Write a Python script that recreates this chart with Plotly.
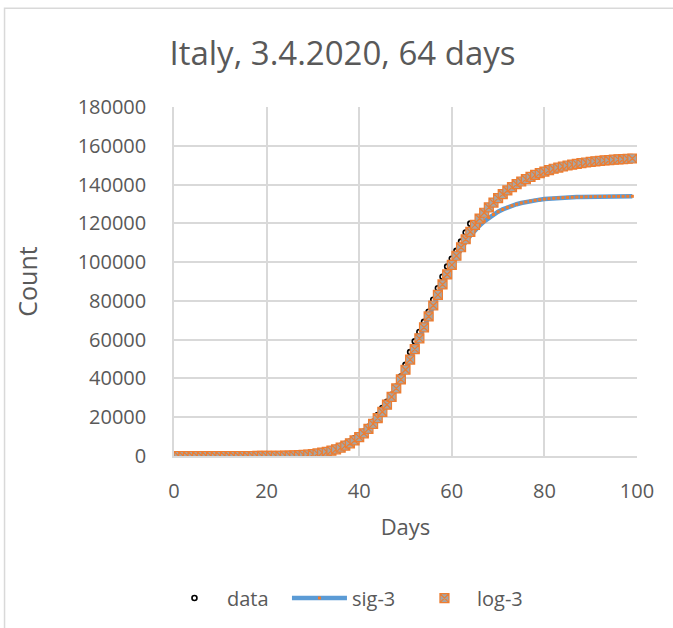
import plotly.graph_objects as go

# Italy cumulative cases, day 1 = 31 Jan 2020 ... day 64 = 3 Apr 2020
data_days = list(range(1, 65))
data_count = [
    2, 2, 2, 2, 2, 2, 2, 3, 3, 3,
    3, 3, 3, 3, 3, 3, 3, 3, 3, 3,
    3, 20, 79, 150, 229, 322, 400, 650, 888, 1128,
    1694, 2036, 2502, 3089, 3858, 4636, 5883, 7375, 9172, 10149,
    12462, 15113, 17660, 21157, 24747, 27980, 31506, 35713, 41035, 47021,
    53578, 59138, 63927, 69176, 74386, 80589, 86498, 92472, 97689, 101739,
    105792, 110574, 115242, 119827,
]

# fitted curves, days 1..99
fit_days = list(range(1, 100))
sig3 = [
    14, 17, 20, 24, 28, 34, 40, 47, 56, 67,
    79, 94, 112, 133, 158, 188, 224, 266, 315, 375,
    445, 529, 628, 745, 885, 1050, 1246, 1478, 1753, 2078,
    2462, 2916, 3451, 4081, 4823, 5692, 6711, 7901, 9286, 10893,
    12750, 14885, 17326, 20101, 23231, 26734, 30620, 34886, 39520, 44493,
    49762, 55269, 60946, 66711, 72481, 78169, 83697, 88993, 93997, 98666,
    102970, 106895, 110436, 113602, 116410, 118884, 121049, 122933, 124563, 125970,
    127177, 128212, 129096, 129849, 130490, 131034, 131495, 131886, 132216, 132496,
    132732, 132932, 133100, 133242, 133361, 133462, 133547, 133619, 133679, 133730,
    133772, 133809, 133839, 133864, 133886, 133904, 133919, 133932, 133943,
]
log3 = [
    0, 0, 0, 0, 0, 0, 0, 0, 0, 0.2,
    0.3, 0.6, 1.2, 2.2, 3.9, 6.5, 10.6, 16.7, 25.9, 39,
    58, 84, 120, 169, 235, 322, 436, 584, 774, 1015,
    1319, 1700, 2170, 2750, 3455, 4311, 5337, 6561, 8017, 9706,
    11681, 13958, 16554, 19504, 22809, 26452, 30466, 34845, 39518, 44474,
    49721, 55128, 60707, 66350, 71967, 77624, 83137, 88470, 93627, 98576,
    103275, 107669, 111795, 115646, 119194, 122472, 125466, 128216, 130713, 133001,
    135063, 136950, 138640, 140181, 141566, 142804, 143945, 144969, 145882, 146711,
    147464, 148141, 148752, 149311, 149816, 150252, 150676, 151043, 151382, 151678,
    151961, 152214, 152439, 152649, 152830, 153011, 153162, 153314, 153435,
]

title_text = "Italy, 3.4.2020, 64 days"
x_ticks = [0, 20, 40, 60, 80, 100]
y_ticks = [0, 20000, 40000, 60000, 80000, 100000, 120000, 140000, 160000, 180000]

FONT = "Open Sans"
TXT = "#595959"
GRID = "#d9d9d9"

fig = go.Figure()

fig.add_trace(go.Scatter(
    x=data_days, y=data_count, name="data", mode="markers",
    marker=dict(symbol="circle", size=5, color="white",
                line=dict(color="black", width=1.6)),
))
fig.add_trace(go.Scatter(
    x=fit_days, y=sig3, name="sig-3", mode="lines+markers",
    line=dict(color="#5B9BD5", width=4.5),
    marker=dict(symbol="square", size=3, color="#ED7D31", line=dict(width=0)),
))
fig.add_trace(go.Scatter(
    x=fit_days, y=log3, name="log-3", mode="markers",
    marker=dict(symbol="square-x", size=9, color="#A5A5A5",
                line=dict(color="#ED7D31", width=1.2)),
))

fig.update_layout(
    width=673, height=628,
    margin=dict(l=174, r=36, t=107, b=171),
    paper_bgcolor="white", plot_bgcolor="white",
    font=dict(family=FONT, color=TXT, size=20),
    title=dict(text=title_text, font=dict(family=FONT, size=33, color=TXT),
               x=342.5 / 673, xref="container", xanchor="center",
               y=1 - 53 / 628, yref="container", yanchor="middle"),
    showlegend=True,
    legend=dict(orientation="h", x=-0.026, xanchor="left", y=-0.403, yanchor="middle",
                font=dict(family=FONT, size=20, color=TXT),
                itemwidth=55,
                entrywidth=55, entrywidthmode="pixels",
                bgcolor="rgba(0,0,0,0)"),
    shapes=[dict(type="rect", xref="paper", yref="paper",
                 x0=-0.366, x1=1.3, y0=-0.7, y1=(457 - 8) / 350,
                 line=dict(color="#d9d9d9", width=1.5), fillcolor="rgba(0,0,0,0)",
                 layer="below")],
)

fig.update_xaxes(
    range=[0, 100], tickvals=x_ticks, ticktext=[str(v) for v in x_ticks],
    showgrid=True, gridcolor=GRID, gridwidth=1.5,
    showline=True, linecolor=GRID, linewidth=1.5, mirror=False,
    zeroline=False, ticks="", ticklabelstandoff=16,
    tickfont=dict(family=FONT, size=20, color=TXT),
    title=dict(text="Days", font=dict(family=FONT, size=22, color=TXT), standoff=17),
)
fig.update_yaxes(
    range=[0, 180000], tickvals=y_ticks, ticktext=[str(v) for v in y_ticks],
    showgrid=True, gridcolor=GRID, gridwidth=1.5,
    showline=True, linecolor=GRID, linewidth=1.5,
    zeroline=False, ticks="", ticklabelstandoff=22,
    tickfont=dict(family=FONT, size=20, color=TXT),
    title=dict(text="Count", font=dict(family=FONT, size=25, color=TXT), standoff=33),
)

fig.write_html("out.html")
